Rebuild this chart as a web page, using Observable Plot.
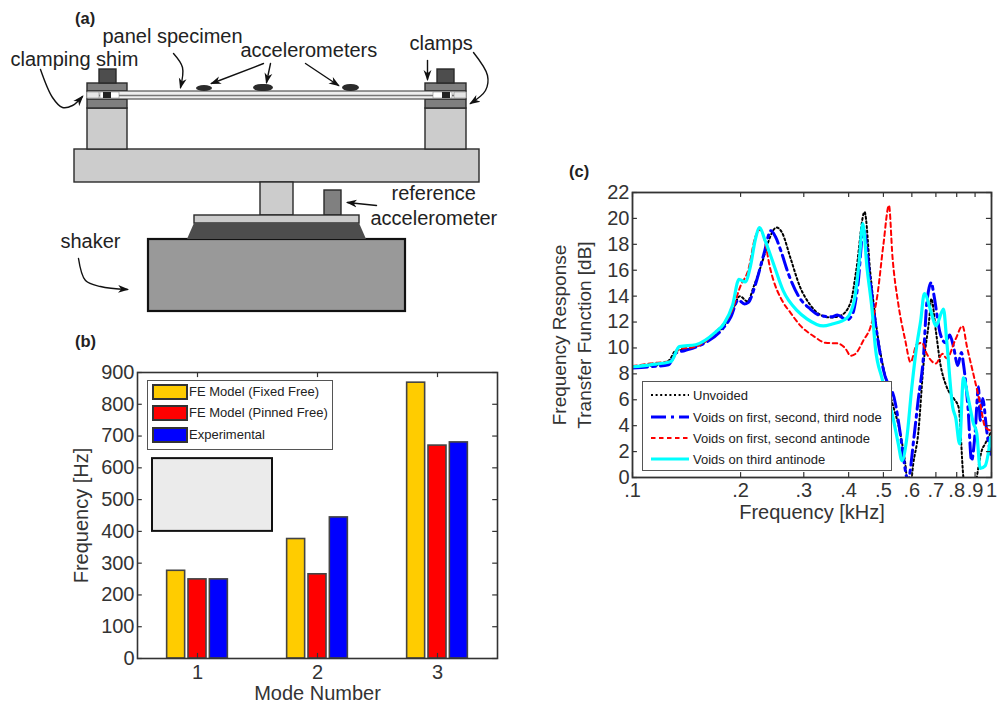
<!DOCTYPE html>
<html><head><meta charset="utf-8">
<script src="https://cdn.jsdelivr.net/npm/d3@7"></script>
<script src="https://cdn.jsdelivr.net/npm/@observablehq/plot@0.6"></script>
<style>
html,body{margin:0;padding:0;background:#fff;width:997px;height:702px;overflow:hidden;font-family:"Liberation Sans",Arial,sans-serif}
#root{position:relative;width:997px;height:702px}
#root>svg,#root>figure{position:absolute;margin:0}
.panel{position:absolute;font-weight:bold;font-size:16.5px;color:#222}
.legend{position:absolute;background:#fff;border:1.5px solid #555;box-sizing:border-box}
.legend .lab{position:absolute;white-space:nowrap;color:#222;line-height:1;transform:translateY(-50%)}
.legend .sw{position:absolute;box-sizing:border-box;border:2px solid #333}
.legend svg{position:absolute}
</style></head><body><div id="root"></div>
<script>
const FONT = '"Liberation Sans",Arial,sans-serif';
const INK = "#333";

// ---- panel (b) data ----
const modes = [1, 2, 3];
const fixedFree = [276, 376, 868];
const pinnedFree = [249, 265, 670];
const experimental = [249, 444, 680];
const barSeries = ["FE Model (Fixed Free)", "FE Model (Pinned Free)", "Experimental"];
const barColors = ["#ffcc00", "#ff0000", "#0000ff"];
const barOffsets = [-0.178, 0, 0.178];
const barHalf = 0.075;
const freqTicks = [0, 100, 200, 300, 400, 500, 600, 700, 800, 900];

// ---- panel (c) data: [frequency kHz, dB] ----
const unvoided = [[.1,8.5],[.11,8.6],[.122,8.75],[.127,9.1],[.132,9.8],[.142,9.9],[.158,10.4],[.176,11.4],[.188,12.5],[.199,14],[.209,13.6],[.218,14.8],[.232,17],[.239,18.2],[.252,19.3],[.261,18.9],[.275,17],[.293,14.7],[.313,13.3],[.334,12.55],[.356,12.35],[.38,12.5],[.405,13.5],[.42,16],[.443,20.5],[.46,15.7],[.481,11.1],[.507,7.7],[.53,5.7],[.557,3.4],[.575,1.1],[.585,-.6],[.595,-.6],[.605,1],[.625,3.4],[.647,8.8],[.67,12.1],[.68,13.8],[.70,11.3],[.72,8.8],[.75,7],[.785,6.1],[.81,5.4],[.835,0],[.86,-2],[.89,-2],[.91,0],[.94,2.1],[.96,2.6],[1,3.6]];
const firstSecondThirdNode = [[.1,8.45],[.112,8.55],[.126,8.7],[.132,9.6],[.14,9.8],[.158,10.35],[.176,11.3],[.188,12.4],[.197,13.7],[.205,13.4],[.21,13.5],[.22,14.9],[.232,17.2],[.243,19.05],[.25,18.6],[.259,17.5],[.272,15.7],[.29,14],[.313,13],[.33,12.55],[.36,12.4],[.372,12.55],[.395,12.15],[.41,12.6],[.425,15],[.44,19.2],[.46,15],[.48,11],[.5,8.3],[.54,5.7],[.557,3.4],[.57,1.3],[.58,0],[.585,-.5],[.59,0],[.607,2.9],[.625,6],[.647,9.5],[.66,13.4],[.68,15.05],[.69,14.2],[.72,11.1],[.745,10.4],[.765,11],[.785,10],[.805,8.65],[.825,9.65],[.835,8.8],[.86,5.4],[.88,1.3],[.9,3.4],[.92,7],[.93,4.4],[.945,6.1],[.97,3.6],[.995,1.8]];
const firstSecondAntinode = [[.1,8.6],[.112,8.8],[.128,9],[.135,9.9],[.15,10.1],[.17,11.2],[.19,13],[.2,14.8],[.21,16],[.22,18.6],[.227,19.1],[.232,18.6],[.242,16.1],[.263,13.5],[.275,12.75],[.294,11.7],[.32,10.9],[.345,10.4],[.373,10.35],[.392,9.95],[.405,9.4],[.418,9.55],[.44,10.6],[.46,11.6],[.48,13.9],[.5,18],[.518,21],[.53,17],[.55,13.4],[.575,10.6],[.595,8.9],[.62,10.3],[.64,10.4],[.66,9.55],[.7,8.8],[.73,9.55],[.75,9.2],[.795,10.7],[.83,11.7],[.855,10.05],[.89,8],[.93,5.7],[.96,3.9],[1,3.6]];
const thirdAntinode = [[.1,8.55],[.112,8.7],[.128,8.95],[.135,10.1],[.15,10.25],[.17,11.2],[.18,11.9],[.19,13.3],[.198,15.3],[.206,15.1],[.213,16.3],[.22,18.4],[.226,19.3],[.234,18.3],[.247,16.5],[.263,14.4],[.287,12.9],[.306,12.25],[.34,11.7],[.36,11.85],[.395,12.3],[.415,13.7],[.428,16.7],[.438,19.6],[.45,16.2],[.465,12.9],[.475,10],[.495,7.7],[.53,4.8],[.55,2.6],[.563,1.3],[.58,2.9],[.6,7],[.62,10.3],[.635,12.1],[.65,14.2],[.68,12.7],[.70,11.7],[.735,13],[.75,10.6],[.78,5.4],[.795,4.6],[.815,2.6],[.835,7.7],[.86,6.2],[.89,4.2],[.91,3.4],[.93,.7],[.96,.9],[.995,3.1]];
const lineSeries = ["Unvoided", "Voids on first, second, third node", "Voids on first, second antinode", "Voids on third antinode"];
const lineData = [unvoided, firstSecondThirdNode, firstSecondAntinode, thirdAntinode];
const lineColors = ["#000000", "#0000ff", "#ff0000", "#00ffff"];
const lineWidths = [2, 3, 2, 3.2];
const lineDashes = ["2 2.6", "15 5 3 5", "4.5 3.5", null];
const kHzTicks = [.1, .2, .3, .4, .5, .6, .7, .8, .9, 1];
const kHzLabels = [".1", ".2", ".3", ".4", ".5", ".6", ".7", ".8", ".9", "1"];
const dbTicks = [0, 2, 4, 6, 8, 10, 12, 14, 16, 18, 20, 22];

// ---- panel (a) schematic parts, in schematic units ----
const parts = [
  [74,149,479,182,"#cccccc"],[260,182,293,215,"#cccccc"],[324,190,341,215,"#808080"],[194,215,359,223,"#cccccc"],
  [87,108,127,149,"#cccccc"],[87,99,127,108,"#7f7f7f"],[87,83,127,91,"#7f7f7f"],[99,69,116,83,"#4d4d4d"],
  [425,108,466,149,"#cccccc"],[425,99,466,108,"#7f7f7f"],[425,83,466,91,"#7f7f7f"],[437,69,454,83,"#4d4d4d"]
];
const shaker = [148,239,405,311,"#999999"];
const trapezoid = [[187,239,239],[194,239,223],[359,239,223],[366,239,239]];
const panelBar = [87,91,466,99];
const shims = [[87,92,99,98,"#e6e6e6"],[100,92,119,98,"#ffffff"],[454,92,466,98,"#e6e6e6"],[433,92,452,98,"#ffffff"]];
const shimCores = [[103,92,111,98],[442,92,450,98]];
const sensors = [[196,85,212,91],[253,84,273,91],[342,84,359,91]];
const arrows = [
  [[173,53],[182,67],[180,87]],
  [[40,69],[52,97],[62,107],[72,105],[82,96]],
  [[263,63],[211,83]],[[270,63],[266,82]],[[305,63],[338,85]],
  [[427,60],[427,79]],
  [[473,52],[487,75],[485,90],[470,103]],
  [[376,205],[347,202]],
  [[78,258],[85,280],[100,286],[127,289]]
];
const notes = [
  ["panel specimen",102,43],["clamping shim",10,66],["accelerometers",240,57],["clamps",409,50],
  ["reference",391,200],["accelerometer",370,225],["shaker",60,248]
];

const root = document.getElementById("root");
function place(el, left, top){ el.style.position="absolute"; el.style.left=left+"px"; el.style.top=top+"px"; root.appendChild(el); return el; }
function tagged(arr){ return arr.map(([x1,y1,x2,y2,fill])=>({x1,y1,x2,y2,fill})); }
const st = (extra)=>({fontFamily:FONT, background:"transparent", overflow:"visible", ...extra});
const stealth = (color) => {
  const m = d3.create("svg:marker")
    .attr("viewBox","-12 -6 14 12").attr("markerWidth",11).attr("markerHeight",9.5)
    .attr("markerUnits","userSpaceOnUse").attr("orient","auto").attr("refX",0).attr("refY",0);
  m.append("path").attr("d","M-12,-5 L2,0 L-12,5 L-8,0 Z").attr("fill",color).attr("stroke","none");
  return m.node();
};

// ---- (a) ----
const arrowRows = arrows.flatMap((pts,i)=>pts.map(([x,y])=>({i,x,y})));
const a = Plot.plot({
  width:510, height:330, margin:0, style:st({}),
  x:{domain:[0,510], range:[0,510], axis:null}, y:{domain:[0,330], range:[0,330], axis:null},
  marks:[
    Plot.rect(tagged(parts),{x1:"x1",y1:"y1",x2:"x2",y2:"y2",fill:"fill",stroke:"#2a2a2a",strokeWidth:1.4}),
    Plot.rect(tagged([shaker]),{x1:"x1",y1:"y1",x2:"x2",y2:"y2",fill:"fill",stroke:"#111",strokeWidth:2.2}),
    Plot.areaY(trapezoid,{x:d=>d[0],y1:d=>d[1],y2:d=>d[2],fill:"#4d4d4d"}),
    Plot.rect(tagged([panelBar]),{x1:"x1",y1:"y1",x2:"x2",y2:"y2",fill:"#eeeeee",stroke:"#333",strokeWidth:1}),
    Plot.ruleY([95],{x1:panelBar[0],x2:panelBar[2],stroke:"#777",strokeWidth:1.5}),
    Plot.rect(tagged(shims),{x1:"x1",y1:"y1",x2:"x2",y2:"y2",fill:"fill",stroke:"#777",strokeWidth:.5}),
    Plot.rect(tagged(shimCores),{x1:"x1",y1:"y1",x2:"x2",y2:"y2",fill:"#222"}),
    Plot.rect(tagged(sensors),{x1:"x1",y1:"y1",x2:"x2",y2:"y2",fill:"#2b2b2b",rx:8,ry:3.5}),
    Plot.line(arrowRows,{x:"x",y:"y",z:"i",curve:"catmull-rom",stroke:"#111",strokeWidth:1.4,marker:null,markerEnd:stealth}),
    Plot.text(notes,{x:d=>d[1],y:d=>d[2],text:d=>d[0],textAnchor:"start",lineAnchor:"bottom",fontSize:20,fill:"#222",dy:-1})
  ]
});
place(a,0,0);

// ---- (b) ----
const barRows = barSeries.flatMap((s,si)=>modes.map((m,mi)=>({
  series:s, color:barColors[si],
  x1:m+barOffsets[si]-barHalf, x2:m+barOffsets[si]+barHalf,
  value:[fixedFree,pinnedFree,experimental][si][mi]
})));
const tickColor = {stroke:INK, strokeWidth:1.2};
const b = Plot.plot({
  width:520, height:362, marginLeft:137, marginRight:23, marginTop:32, marginBottom:44, style:st({color:INK}),
  x:{domain:[.5,3.5]}, y:{domain:[0,900]},
  marks:[
    Plot.rectY(barRows,{x1:"x1",x2:"x2",y1:0,y2:"value",fill:"color",stroke:"#444",strokeWidth:1.6}),
    Plot.rect([{x1:.625,x2:1.625,y1:400,y2:629}],{x1:"x1",x2:"x2",y1:"y1",y2:"y2",fill:"#ebebeb",stroke:"#111",strokeWidth:2}),
    Plot.ruleY(freqTicks,{x1:.5,x2:.54,...tickColor}),
    Plot.ruleY(freqTicks,{x1:3.46,x2:3.5,...tickColor}),
    Plot.ruleX(modes,{y1:0,y2:16,...tickColor}),
    Plot.ruleX(modes,{y1:884,y2:900,...tickColor}),
    Plot.frame({stroke:INK,strokeWidth:1.6}),
    Plot.axisY({ticks:freqTicks,tickSize:0,tickPadding:3,tickFormat:d=>d,fontSize:20,label:"Frequency [Hz]",labelAnchor:"center",labelArrow:"none",labelOffset:64,color:INK}),
    Plot.axisX({ticks:modes,tickSize:0,tickPadding:6,tickFormat:d=>d,fontSize:20,label:"Mode Number",labelAnchor:"center",labelArrow:"none",labelOffset:41,color:INK})
  ]
});
place(b,0,340);

// ---- (c) ----
const lineRows = lineSeries.flatMap((s,i)=>lineData[i].map(([f,db])=>({s,f,db})));
const c = Plot.plot({
  width:457, height:355, marginLeft:92, marginRight:6, marginTop:22, marginBottom:48, style:st({color:INK}),
  x:{type:"log",domain:[.1,1]}, y:{domain:[0,22]},
  marks:[
    ...lineSeries.map((s,i)=>Plot.line(lineRows.filter(d=>d.s===s),{x:"f",y:"db",stroke:lineColors[i],strokeWidth:lineWidths[i],strokeDasharray:lineDashes[i],curve:"monotone-x",clip:true})),
    Plot.ruleY(dbTicks,{x1:.1,x2:.1032,...tickColor}),
    Plot.ruleY(dbTicks,{x1:.968,x2:1,...tickColor}),
    Plot.ruleX(kHzTicks,{y1:0,y2:.38,...tickColor}),
    Plot.ruleX(kHzTicks,{y1:21.62,y2:22,...tickColor}),
    Plot.frame({stroke:INK,strokeWidth:1.8}),
    Plot.axisY({ticks:dbTicks,tickSize:0,tickPadding:3,tickFormat:d=>d,fontSize:20,label:null,color:INK}),
    Plot.axisX({ticks:kHzTicks,tickSize:0,tickPadding:5,tickFormat:d=>kHzLabels[kHzTicks.indexOf(d)],fontSize:20,label:"Frequency [kHz]",labelAnchor:"center",labelArrow:"none",labelOffset:41,color:INK}),
    Plot.text(["Frequency Response\nTransfer Function [dB]"],{frameAnchor:"left",textAnchor:"middle",rotate:-90,dx:-62,fontSize:19,fill:INK,lineHeight:1.3})
  ]
});
place(c,540,170);

// ---- legends and panel letters (real text over the charts) ----
function legendBox(left,top,w,h){ const d=document.createElement("div"); d.className="legend"; Object.assign(d.style,{left:left+"px",top:top+"px",width:w+"px",height:h+"px"}); root.appendChild(d); return d; }
const lb = legendBox(147,380,186,70);
[[4,14],[25,14],[47,14]].forEach(([t,h],i)=>{
  const sw=document.createElement("div"); sw.className="sw";
  Object.assign(sw.style,{left:"4px",top:t-1+"px",width:"36px",height:h+2+"px",background:barColors[i]}); lb.appendChild(sw);
  const l=document.createElement("div"); l.className="lab"; l.textContent=barSeries[i];
  Object.assign(l.style,{left:"41px",top:t+6+"px",fontSize:"13px"}); lb.appendChild(l);
});
const lc = legendBox(642,381,250,90);
[13,35,56,77].forEach((y,i)=>{
  const s=d3.create("svg").attr("width",42).attr("height",8).style("left","8px").style("top",y-4+"px");
  s.append("line").attr("x1",0).attr("x2",38).attr("y1",4).attr("y2",4).attr("stroke",lineColors[i]).attr("stroke-width",lineWidths[i]).attr("stroke-dasharray",lineDashes[i]);
  lc.appendChild(s.node());
  const l=document.createElement("div"); l.className="lab"; l.textContent=lineSeries[i];
  Object.assign(l.style,{left:"50px",top:y+"px",fontSize:"13px"}); lc.appendChild(l);
});
[["(a)",75,9],["(b)",75,332],["(c)",569,162]].forEach(([t,x,y])=>{
  const d=document.createElement("div"); d.className="panel"; d.textContent=t; d.style.left=x+"px"; d.style.top=y+"px"; root.appendChild(d);
});
</script></body></html>
